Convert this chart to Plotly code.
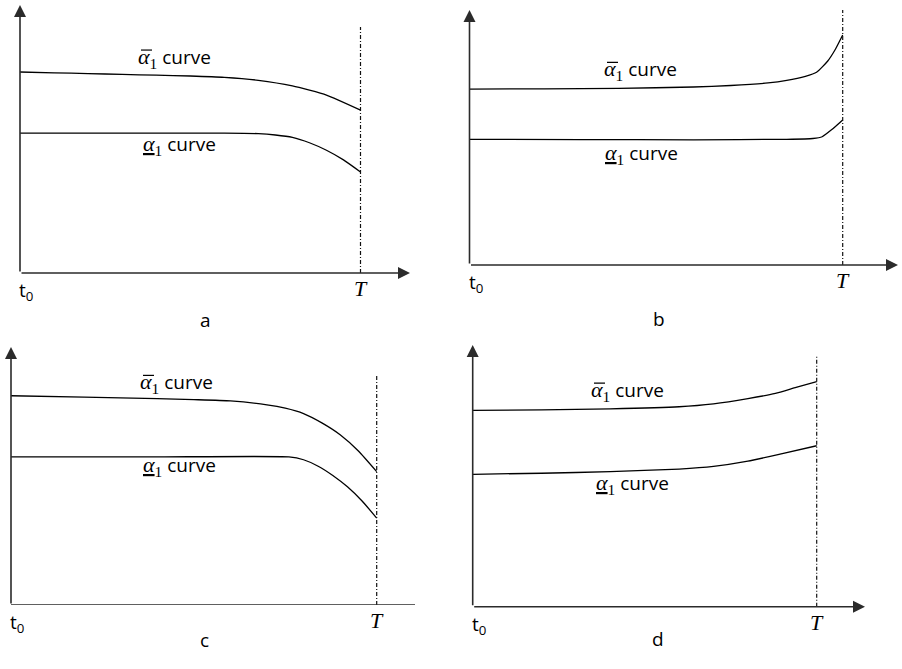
import plotly.graph_objects as go

W, H = 902, 669

# Time axis in units of T (t0 = 0, T = 1); curve levels in axis units (x-axis = 0, top of y-axis = 1)
t_a = [0.0, 0.1, 0.2, 0.3, 0.4, 0.5, 0.6, 0.7, 0.8, 0.9, 1.0]
upper_a = [0.750, 0.747, 0.744, 0.741, 0.738, 0.735, 0.730, 0.719, 0.698, 0.664, 0.608]
t_a_low = [0.0, 0.3, 0.6, 0.7, 0.75, 0.8, 0.85, 0.9, 0.95, 1.0]
lower_a = [0.522, 0.522, 0.522, 0.520, 0.515, 0.506, 0.486, 0.458, 0.422, 0.377]

t_b = [0.0, 0.2, 0.4, 0.6, 0.7, 0.8, 0.85, 0.9, 0.93, 0.96, 0.98, 1.0]
upper_b = [0.690, 0.691, 0.693, 0.698, 0.704, 0.714, 0.724, 0.740, 0.756, 0.800, 0.845, 0.902]
t_b_low = [0.0, 0.3, 0.6, 0.85, 0.92, 0.945, 0.97, 1.0]
lower_b = [0.493, 0.492, 0.491, 0.493, 0.496, 0.503, 0.530, 0.569]

t_c = [0.0, 0.2, 0.4, 0.5, 0.6, 0.7, 0.75, 0.8, 0.85, 0.9, 0.95, 1.0]
upper_c = [0.811, 0.806, 0.800, 0.796, 0.791, 0.776, 0.763, 0.742, 0.706, 0.660, 0.597, 0.517]
t_c_low = [0.0, 0.4, 0.76, 0.8, 0.84, 0.88, 0.92, 0.96, 1.0]
lower_c = [0.574, 0.574, 0.574, 0.563, 0.538, 0.502, 0.458, 0.403, 0.337]

t_d = [0.0, 0.2, 0.4, 0.6, 0.7, 0.8, 0.88, 0.94, 1.0]
upper_d = [0.750, 0.752, 0.756, 0.764, 0.775, 0.795, 0.815, 0.838, 0.860]
t_d_low = [0.0, 0.2, 0.4, 0.6, 0.7, 0.8, 0.9, 1.0]
lower_d = [0.506, 0.510, 0.516, 0.526, 0.536, 0.556, 0.585, 0.615]

panel_names = ["a", "b", "c", "d"]
greek = "font-family:Liberation Serif;font-size:22px"
upper_label = f"<span style='{greek}'><i>α</i><sub>1</sub></span> curve"
lower_label = (f"<span style='{greek}'><span style='text-decoration:underline'><i>α</i></span>"
               f"<sub>1</sub></span> curve")

# Panel frames in pixels: origin x, T x, arrow-tip x, x-axis y, top-arrow y;
# label positions: left edge in pixels, vertical centre in axis units
panels = [
    dict(x0=20, xT=360.5, x1=410, y0=273, y1=5, dash_top=0.918, xarrow=True,
         t=t_a, up=upper_a, tl=t_a_low, lo=lower_a,
         lab_up=(140, 0.802), lab_lo=(145, 0.478), name_x=198, name_y=320),
    dict(x0=469.5, xT=842.7, x1=898, y0=265, y1=10, dash_top=1.0, xarrow=True,
         t=t_b, up=upper_b, tl=t_b_low, lo=lower_b,
         lab_up=(606, 0.763), lab_lo=(607, 0.437), name_x=667, name_y=319),
    dict(x0=11, xT=376.7, x1=415, y0=605, y1=347, dash_top=0.891, xarrow=False,
         t=t_c, up=upper_c, tl=t_c_low, lo=lower_c,
         lab_up=(142, 0.859), lab_lo=(145, 0.539), name_x=198, name_y=655),
    dict(x0=472.7, xT=816.7, x1=865, y0=606.7, y1=345, dash_top=0.955, xarrow=True,
         t=t_d, up=upper_d, tl=t_d_low, lo=lower_d,
         lab_up=(593, 0.824), lab_lo=(598, 0.467), name_x=666, name_y=654),
]

fig = go.Figure()
annotations = []
shapes = []
axis_color = "#2b2b2b"
text_font = dict(family="Open Sans", size=19, color="black")

for i, p in enumerate(panels):
    n = "" if i == 0 else str(i + 1)
    xr, yr = "x" + n, "y" + n
    unit = p["xT"] - p["x0"]
    xmax = (p["x1"] - p["x0"]) / unit
    fig.update_layout({
        "xaxis" + n: dict(domain=[p["x0"] / W, p["x1"] / W], range=[0, xmax], anchor=yr,
                          visible=False, fixedrange=True),
        "yaxis" + n: dict(domain=[(H - p["y0"]) / H, (H - p["y1"]) / H], range=[0, 1], anchor=xr,
                          visible=False, fixedrange=True),
    })

    # the two alpha curves
    for tx, vy in ((p["t"], p["up"]), (p["tl"], p["lo"])):
        fig.add_trace(go.Scatter(x=tx, y=vy, xaxis=xr, yaxis=yr, mode="lines",
                                 line=dict(color="black", width=1.3, shape="spline", smoothing=0.5),
                                 showlegend=False, hoverinfo="skip"))
    # vertical marker at T
    fig.add_trace(go.Scatter(x=[1, 1], y=[0, p["dash_top"]], xaxis=xr, yaxis=yr, mode="lines",
                             line=dict(color="#111", width=1.2, dash="4px,2px,1px,2px"),
                             showlegend=False, hoverinfo="skip"))

    # axes drawn as arrows
    annotations.append(dict(x=0, y=1, ax=0, ay=0, xref=xr, yref=yr, axref=xr, ayref=yr,
                            showarrow=True, arrowhead=2, arrowsize=1.5, arrowwidth=1.6,
                            arrowcolor=axis_color, text=""))
    if p["xarrow"]:
        annotations.append(dict(x=xmax, y=0, ax=0, ay=0, xref=xr, yref=yr, axref=xr, ayref=yr,
                                showarrow=True, arrowhead=2, arrowsize=1.5, arrowwidth=1.6,
                                arrowcolor=axis_color, text=""))
    else:
        fig.add_trace(go.Scatter(x=[0, xmax], y=[0, 0], xaxis=xr, yaxis=yr, mode="lines",
                                 line=dict(color=axis_color, width=1.6),
                                 showlegend=False, hoverinfo="skip"))

    # curve labels (left-aligned so the bar over the upper alpha can sit on it)
    up_x = (p["lab_up"][0] - p["x0"]) / unit
    lo_x = (p["lab_lo"][0] - p["x0"]) / unit
    annotations.append(dict(x=up_x, y=p["lab_up"][1], xref=xr, yref=yr, text=upper_label,
                            xanchor="left", xshift=-4, showarrow=False, font=text_font))
    annotations.append(dict(x=lo_x, y=p["lab_lo"][1], xref=xr, yref=yr, text=lower_label,
                            xanchor="left", xshift=-4, showarrow=False, font=text_font))
    shapes.append(dict(type="line", xref=xr, yref=yr, xsizemode="pixel", ysizemode="pixel",
                       xanchor=up_x, yanchor=p["lab_up"][1], x0=1, x1=12, y0=8, y1=8,
                       line=dict(color="black", width=1.2)))

    # axis labels t0 and T, panel letter
    base_y = (H - p["y0"]) / H
    annotations.append(dict(x=0, y=base_y - 2 / H, xref=xr, yref="paper", xanchor="left", yanchor="top",
                            xshift=-3, text="t<sub>0</sub>", showarrow=False, font=text_font))
    annotations.append(dict(x=1, y=base_y - 1 / H, xref=xr, yref="paper", xanchor="center", yanchor="top",
                            text="<i>T</i>", showarrow=False,
                            font=dict(family="Liberation Serif", size=22, color="black")))
    annotations.append(dict(x=p["name_x"] / W, y=(H - p["name_y"]) / H, xref="paper", yref="paper",
                            text=panel_names[i], showarrow=False, font=text_font))

fig.update_layout(width=W, height=H, margin=dict(l=0, r=0, t=0, b=0),
                  paper_bgcolor="white", plot_bgcolor="white", annotations=annotations,
                  shapes=shapes, showlegend=False)

fig.write_html("out.html", config=dict(displayModeBar=False))
